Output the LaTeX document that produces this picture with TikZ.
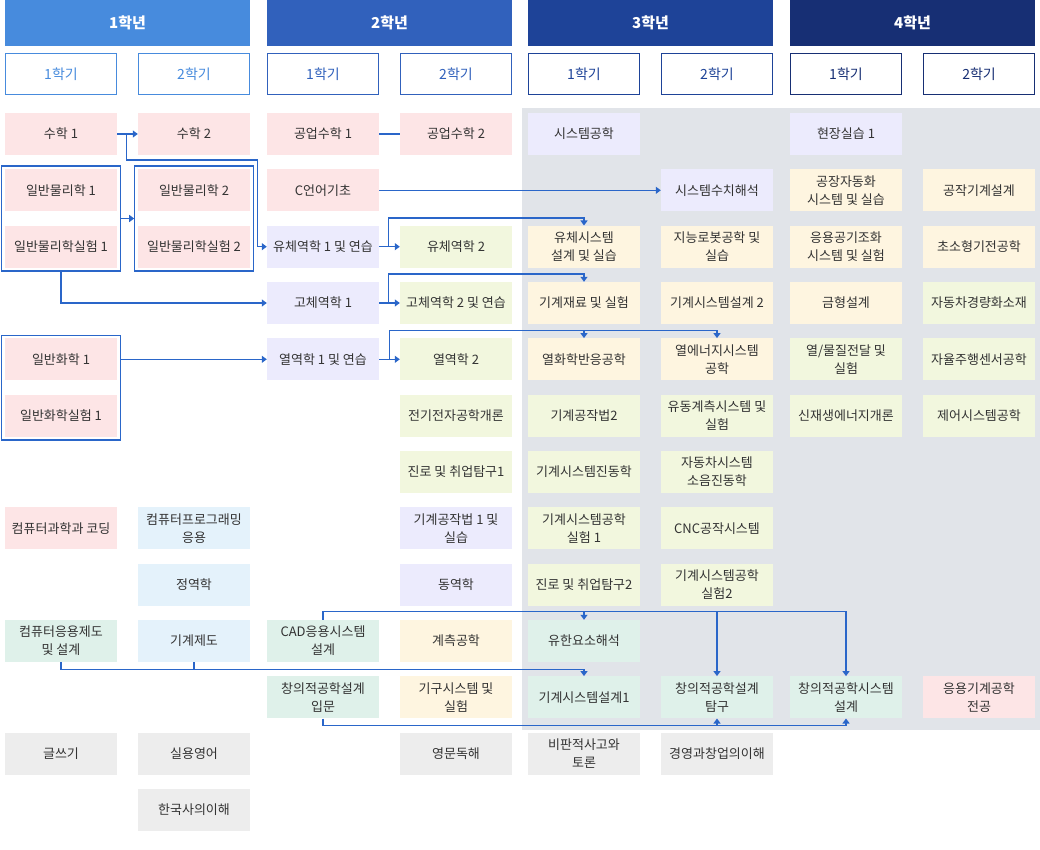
\documentclass[tikz,border=0pt]{standalone}
\usepackage{fontspec}
\setmainfont{Noto Sans CJK KR}
\usetikzlibrary{arrows.meta,fit}

\definecolor{yearA}{HTML}{478BDD}
\definecolor{yearB}{HTML}{3161BC}
\definecolor{yearC}{HTML}{1E4398}
\definecolor{yearD}{HTML}{172F74}
\definecolor{pinkc}{HTML}{FDE5E6}
\definecolor{lavc}{HTML}{ECEBFD}
\definecolor{limec}{HTML}{F2F7DE}
\definecolor{creamc}{HTML}{FEF5E0}
\definecolor{skyc}{HTML}{E4F2FB}
\definecolor{mintc}{HTML}{DFF1EA}
\definecolor{greyc}{HTML}{EDEDED}
\definecolor{bgc}{HTML}{E1E4E9}
\definecolor{linkc}{HTML}{2A66C9}
\definecolor{txtc}{HTML}{333333}

\begin{document}
\begin{tikzpicture}[x=1pt,y=-1pt,
	yearhd/.style={rectangle,minimum width=245pt,minimum height=46pt,inner sep=0pt,text=white,font=\fontsize{15}{18}\selectfont\bfseries},
	semhd/.style={rectangle,draw=#1,line width=1pt,fill=white,text=#1,minimum width=111pt,minimum height=41pt,inner sep=0pt,font=\fontsize{14}{18}\selectfont},
	course/.style={rectangle,fill=#1,minimum width=112pt,minimum height=42pt,inner sep=0pt,align=center,text=txtc,font=\fontsize{13}{18}\selectfont},
	grp/.style={rectangle,draw=linkc,line width=1.2pt,inner sep=3pt},
	link/.style={draw=linkc,line width=1.2pt},
	arr/.style={link,-{Triangle[length=5pt,width=7pt]}}]

\useasboundingbox (0,0) rectangle (1040,850);
\fill[bgc] (522,108) rectangle (1040,730);

% years and semesters
\node[yearhd,fill=yearA] (yr1) at (127.5,23) {1학년};
\node[yearhd,fill=yearB] (yr2) at (389.5,23) {2학년};
\node[yearhd,fill=yearC] (yr3) at (650.5,23) {3학년};
\node[yearhd,fill=yearD] (yr4) at (912.5,23) {4학년};
\node[semhd=yearA] (sem11) at (61,74) {1학기};
\node[semhd=yearA] (sem12) at (194,74) {2학기};
\node[semhd=yearB] (sem21) at (323,74) {1학기};
\node[semhd=yearB] (sem22) at (456,74) {2학기};
\node[semhd=yearC] (sem31) at (584,74) {1학기};
\node[semhd=yearC] (sem32) at (717,74) {2학기};
\node[semhd=yearD] (sem41) at (846,74) {1학기};
\node[semhd=yearD] (sem42) at (979,74) {2학기};

% 1st year
\node[course=pinkc] (math1) at (61,134) {수학 1};
\node[course=pinkc] (phys1) at (61,190.3) {일반물리학 1};
\node[course=pinkc] (physlab1) at (61,246.7) {일반물리학실험 1};
\node[course=pinkc] (chem1) at (61,359.3) {일반화학 1};
\node[course=pinkc] (chemlab1) at (61,415.7) {일반화학실험 1};
\node[course=pinkc] (cscode) at (61,528.3) {컴퓨터과학과 코딩};
\node[course=mintc] (compdraw) at (61,641) {컴퓨터응용제도\\및 설계};
\node[course=greyc] (writing) at (61,753.7) {글쓰기};

\node[course=pinkc] (math2) at (194,134) {수학 2};
\node[course=pinkc] (phys2) at (194,190.3) {일반물리학 2};
\node[course=pinkc] (physlab2) at (194,246.7) {일반물리학실험 2};
\node[course=skyc] (progapp) at (194,528.3) {컴퓨터프로그래밍\\응용};
\node[course=skyc] (statics) at (194,584.7) {정역학};
\node[course=skyc] (drafting) at (194,641) {기계제도};
\node[course=greyc] (english) at (194,753.7) {실용영어};
\node[course=greyc] (korhist) at (194,810) {한국사의이해};

\node[grp,fit=(phys1)(physlab1)] (physgrp1) {};
\node[grp,fit=(phys2)(physlab2)] (physgrp2) {};
\node[grp,fit=(chem1)(chemlab1)] (chemgrp) {};

% 2nd year
\node[course=pinkc] (emath1) at (323,134) {공업수학 1};
\node[course=pinkc] (clang) at (323,190.3) {C언어기초};
\node[course=lavc] (fluid1) at (323,246.7) {유체역학 1 및 연습};
\node[course=lavc] (solid1) at (323,303) {고체역학 1};
\node[course=lavc] (thermo1) at (323,359.3) {열역학 1 및 연습};
\node[course=mintc] (cad) at (323,641) {CAD응용시스템\\설계};
\node[course=mintc] (intro) at (323,697.3) {창의적공학설계\\입문};

\node[course=pinkc] (emath2) at (456,134) {공업수학 2};
\node[course=limec] (fluid2) at (456,246.7) {유체역학 2};
\node[course=limec] (solid2) at (456,303) {고체역학 2 및 연습};
\node[course=limec] (thermo2) at (456,359.3) {열역학 2};
\node[course=limec] (elec) at (456,415.7) {전기전자공학개론};
\node[course=limec] (career1) at (456,472) {진로 및 취업탐구1};
\node[course=lavc] (manuf1) at (456,528.3) {기계공작법 1 및\\실습};
\node[course=lavc] (dynamics) at (456,584.7) {동역학};
\node[course=creamc] (measure) at (456,641) {계측공학};
\node[course=creamc] (mechanism) at (456,697.3) {기구시스템 및\\실험};
\node[course=greyc] (reading) at (456,753.7) {영문독해};

% 3rd year
\node[course=lavc] (syseng) at (584,134) {시스템공학};
\node[course=creamc] (fluidsys) at (584,246.7) {유체시스템\\설계 및 실습};
\node[course=creamc] (matl) at (584,303) {기계재료 및 실험};
\node[course=creamc] (thermchem) at (584,359.3) {열화학반응공학};
\node[course=limec] (manuf2) at (584,415.7) {기계공작법2};
\node[course=limec] (vibr) at (584,472) {기계시스템진동학};
\node[course=limec] (syslab1) at (584,528.3) {기계시스템공학\\실험 1};
\node[course=limec] (career2) at (584,584.7) {진로 및 취업탐구2};
\node[course=mintc] (fem) at (584,641) {유한요소해석};
\node[course=mintc] (msd1) at (584,697.3) {기계시스템설계1};
\node[course=greyc] (critical) at (584,753.7) {비판적사고와\\토론};

\node[course=lavc] (numan) at (717,190.3) {시스템수치해석};
\node[course=creamc] (robot) at (717,246.7) {지능로봇공학 및\\실습};
\node[course=creamc] (msd2) at (717,303) {기계시스템설계 2};
\node[course=creamc] (thermsys) at (717,359.3) {열에너지시스템\\공학};
\node[course=limec] (flowmeas) at (717,415.7) {유동계측시스템 및\\실험};
\node[course=limec] (carnoise) at (717,472) {자동차시스템\\소음진동학};
\node[course=limec] (cnc) at (717,528.3) {CNC공작시스템};
\node[course=limec] (syslab2) at (717,584.7) {기계시스템공학\\실험2};
\node[course=mintc] (createxp) at (717,697.3) {창의적공학설계\\탐구};
\node[course=greyc] (startup) at (717,753.7) {경영과창업의이해};

% 4th year
\node[course=lavc] (fieldwork) at (846,134) {현장실습 1};
\node[course=creamc] (factory) at (846,190.3) {공장자동화\\시스템 및 실습};
\node[course=creamc] (hvac) at (846,246.7) {응용공기조화\\시스템 및 실험};
\node[course=creamc] (mold) at (846,303) {금형설계};
\node[course=limec] (heatmass) at (846,359.3) {열/물질전달 및\\실험};
\node[course=limec] (renew) at (846,415.7) {신재생에너지개론};
\node[course=mintc] (creatsys) at (846,697.3) {창의적공학시스템\\설계};

\node[course=creamc] (machtool) at (979,190.3) {공작기계설계};
\node[course=creamc] (micro) at (979,246.7) {초소형기전공학};
\node[course=limec] (carlight) at (979,303) {자동차경량화소재};
\node[course=limec] (autosens) at (979,359.3) {자율주행센서공학};
\node[course=limec] (control) at (979,415.7) {제어시스템공학};
\node[course=pinkc] (advmaj) at (979,697.3) {응용기계공학\\전공};

% prerequisites
\coordinate (thbus) at ([yshift=8pt]thermchem.north);
\coordinate (cadbus) at ([yshift=8pt]cad.north);
\coordinate (drbus) at ([yshift=-7pt]compdraw.south);
\coordinate (inbus) at ([yshift=-7pt]intro.south);

\draw[arr] (math1) -- (math2);
\draw[arr] ([xshift=9pt]math1.east) -- ++(0,26) -| ([xshift=-9pt]fluid1.west) -- (fluid1.west);
\draw[arr] (physgrp1) -- (physgrp2);
\draw[arr] (physgrp1.south) |- (solid1.west);
\draw[arr] (chemgrp.east |- thermo1) -- (thermo1.west);
\draw[link] (emath1) -- (emath2);
\draw[arr] (clang) -- (numan);
\draw[arr] (fluid1) -- (fluid2);
\draw[arr] ([xshift=9pt]fluid1.east) -- ++(0,-28.7) -| (fluidsys.north);
\draw[arr] (solid1) -- (solid2);
\draw[arr] ([xshift=9pt]solid1.east) -- ++(0,-29) -| (matl.north);
\draw[arr] (thermo1) -- (thermo2);
\draw[arr] ([xshift=10pt]thermo1.east) |- (thbus -| thermsys) -- (thermsys.north);
\draw[arr] (thbus) -- (thermchem.north);
\draw[arr] (cad.north) -- (cadbus) -| (creatsys.north);
\draw[arr] (cadbus -| fem) -- (fem.north);
\draw[arr] (cadbus -| createxp) -- (createxp.north);
\draw[arr] (compdraw.south) -- (drbus) -| (msd1.north);
\draw[link] (drafting.south) -- (drafting.south |- drbus);
\draw[arr] (intro.south) -- (inbus) -| (creatsys.south);
\draw[arr] (inbus -| createxp) -- (createxp.south);

\end{tikzpicture}
\end{document}
